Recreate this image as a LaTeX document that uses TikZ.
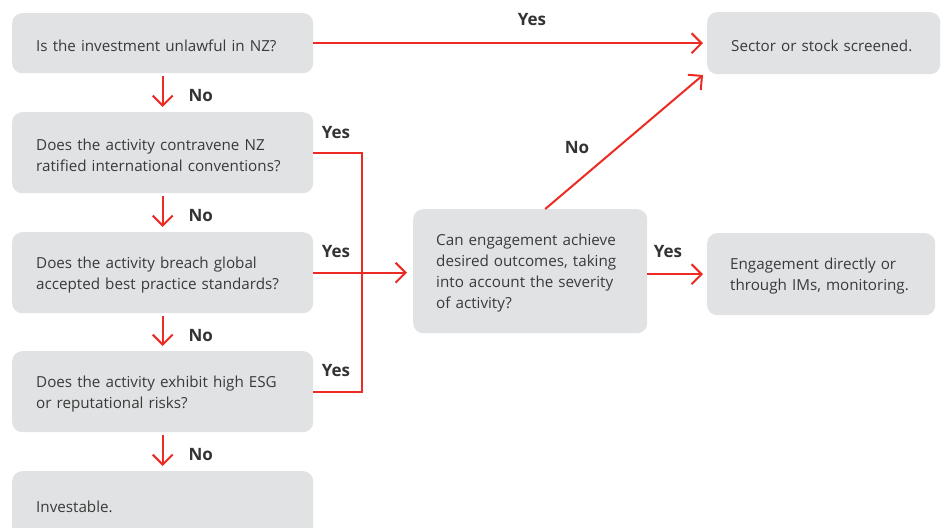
\documentclass[tikz,border=0pt]{standalone}
\usepackage{fontspec}
\setmainfont{Open Sans}
\usetikzlibrary{arrows.meta,calc}
\definecolor{boxgray}{HTML}{E1E2E4}
\definecolor{txtgray}{HTML}{3A3A3A}
\definecolor{lblgray}{HTML}{333333}
\definecolor{nzred}{HTML}{EC2B25}
\begin{document}
\begin{tikzpicture}[x=1pt,y=-1pt,
  qbox/.style={rectangle, rounded corners=10pt, fill=boxgray, anchor=north west,
    inner xsep=24pt, inner ysep=0pt, align=left, text=txtgray,
    font=\fontsize{15.2}{21}\selectfont,
    execute at begin node={\rule{0pt}{16pt}}},
  lbl/.style={font=\bfseries\fontsize{17}{20}\selectfont, text=lblgray, inner sep=0pt},
  link/.style={draw=nzred, line width=2pt},
  arr/.style={link, -{Straight Barb[length=10pt,width=20pt,line width=2pt]}}
]
\clip (0,0) rectangle (941,527);
\fill[white] (0,0) rectangle (941,527);

\node[qbox, text width=253pt, minimum height=60pt] (q1) at (12,13) {Is the investment unlawful in NZ?};
\node[qbox, text width=253pt, minimum height=81pt] (q2) at (12,112) {Does the activity contravene NZ\\ratified international conventions?};
\node[qbox, text width=253pt, minimum height=81pt] (q3) at (12,232) {Does the activity breach global\\accepted best practice standards?};
\node[qbox, text width=253pt, minimum height=81pt] (q4) at (12,351) {Does the activity exhibit high ESG\\or reputational risks?};
\node[qbox, text width=253pt, minimum height=66pt] (inv) at (12,471) {Investable.};

\node[qbox, inner xsep=23pt, text width=188pt, minimum height=124pt] (can) at (413,209) {Can engagement achieve\\desired outcomes, taking\\into account the severity\\of activity?};
\node[qbox, text width=185pt, minimum height=62pt] (scr) at (707,12) {Sector or stock screened.};
\node[qbox, inner xsep=23pt, text width=182pt, minimum height=82pt] (eng) at (707,233) {Engagement directly or\\through IMs, monitoring.};

% down arrows
\draw[arr, shorten <=3pt, shorten >=5pt] (q1.south) -- (q2.north);
\draw[arr, shorten <=3pt, shorten >=5pt] (q2.south) -- (q3.north);
\draw[arr, shorten <=3pt, shorten >=5pt] (q3.south) -- (q4.north);
\draw[arr, shorten <=3pt, shorten >=5pt] (q4.south) -- (inv.north);
\node[lbl] (n1) at ($(q1.south)!0.5!(q2.north)+(38,3)$) {No};
\node[lbl] (n2) at ($(q2.south)!0.5!(q3.north)+(38,3)$) {No};
\node[lbl] (n3) at ($(q3.south)!0.5!(q4.north)+(38,3)$) {No};
\node[lbl] (n4) at ($(q4.south)!0.5!(inv.north)+(38,3)$) {No};

% top yes
\draw[arr, shorten >=4pt] (q1.east) -- (q1.east -| scr.west);
\node[lbl] (y0) at (532,20) {Yes};

% bracket yes
\coordinate (bx) at (362,0);
\draw[link] (q2.east) -- (q2.east -| bx) -- (q4.east -| bx) -- (q4.east);
\draw[arr, shorten >=6pt] (q3.east) -- (q3.east -| can.west);
\node[lbl] (y1) at (336,133) {Yes};
\node[lbl] (y2) at (336,252) {Yes};
\node[lbl] (y3) at (336,371) {Yes};

% no to screened
\coordinate (nostart) at ($(can.north)+(15,0)$);
\coordinate (noend) at (703,75);
\draw[arr] (nostart) -- (noend);
\node[lbl] (n5) at (577,148) {No};

% yes to engagement
\draw[arr, shorten >=4pt] (can.east |- eng.west) -- (eng.west);
\node[lbl] (y4) at (668,252) {Yes};
\end{tikzpicture}
\end{document}
